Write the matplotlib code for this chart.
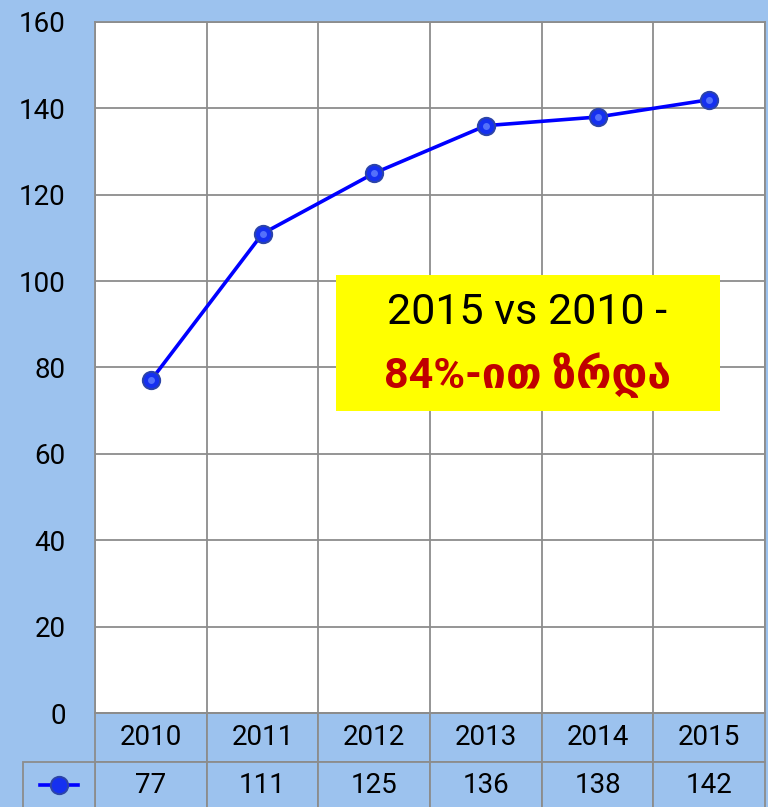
import matplotlib.pyplot as plt
from matplotlib.patches import Rectangle
from matplotlib.lines import Line2D

# data
years = ['2010', '2011', '2012', '2013', '2014', '2015']
values = [77, 111, 125, 136, 138, 142]
box_line1 = '2015 vs 2010 -'
box_line2 = '84%-ით ზრდა'

bg = '#9cc2ee'
grid_col = '#8c8c8c'
plt.rcParams['font.family'] = ['Roboto', 'DejaVu Sans']

fig = plt.figure(figsize=(7.68, 8.07), dpi=100, facecolor=bg)
ax = fig.add_axes([95 / 768, 1 - 713 / 807, 670 / 768, 691 / 807])
ax.set_facecolor('white')

x = list(range(len(years)))
ax.plot(x, values, color='#0000ff', lw=2.6, zorder=3)
ax.plot(x, values, ls='none', marker='o', ms=12.5, mfc='#1530f0', mec='#2c44a8', mew=1.4, zorder=4)
ax.plot(x, values, ls='none', marker='o', ms=5, mfc='#6f8cff', mec='none', alpha=0.7, zorder=5)

ax.set_xlim(-0.5, len(years) - 0.5)
ax.set_ylim(0, 160)
ax.set_yticks(range(0, 161, 20))
ax.set_xticks([])
ax.set_xticks([i - 0.5 for i in range(len(years) + 1)], minor=True)
ax.grid(axis='y', which='major', color=grid_col, lw=1.3)
ax.grid(axis='x', which='minor', color=grid_col, lw=1.3)
ax.tick_params(axis='y', length=0, pad=21, labelsize=20)
ax.tick_params(axis='x', which='both', length=0, labelbottom=False)
for s in ax.spines.values():
    s.set_color(grid_col)
    s.set_linewidth(1.3)

# yellow annotation box
ax.add_patch(Rectangle((0.3597, 0.437), 0.5731, 0.197, transform=ax.transAxes,
                       facecolor='#ffff00', edgecolor='none', zorder=6))
ax.text(0.645, 0.579, box_line1, transform=ax.transAxes, ha='center', va='center',
        fontsize=31, color='black', zorder=7)
ax.text(0.645, 0.489, box_line2, transform=ax.transAxes, ha='center', va='center',
        fontsize=31, color='#c00000', fontweight='bold', zorder=7)

# data table below the plot
tbl = ax.table(cellText=[[str(v) for v in values]], colLabels=years,
               cellLoc='center', bbox=[0, -97 / 691, 1, 97 / 691])
tbl.auto_set_font_size(False)
for (r, c), cell in tbl.get_celld().items():
    cell.set_facecolor(bg)
    cell.set_edgecolor(grid_col)
    cell.set_linewidth(1.3)
    cell.get_text().set_fontsize(20)

# legend cell left of the value row
ax.add_patch(Rectangle((-72 / 670, -97 / 691), 72 / 670, 48.5 / 691, transform=ax.transAxes,
                       facecolor=bg, edgecolor=grid_col, lw=1.3, clip_on=False))
handle = Line2D([], [], color='#0000ff', lw=2.6, marker='o', ms=12.5,
                mfc='#1530f0', mec='#2c44a8', mew=1.4)
ax.legend([handle], [''], loc='center', bbox_to_anchor=(-36 / 670, -73 / 691),
          frameon=False, handlelength=2.7, handletextpad=0, borderpad=0)

fig.savefig('out.png', dpi=100, facecolor=bg)
